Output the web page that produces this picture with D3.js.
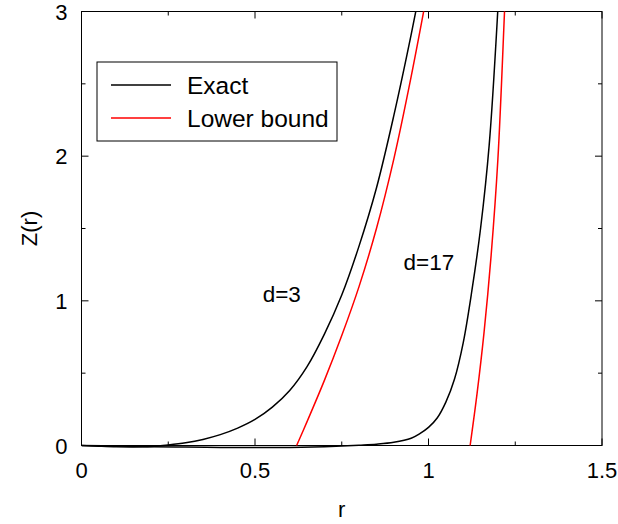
<!DOCTYPE html>
<html>
<head>
<meta charset="utf-8">
<script src="https://cdn.jsdelivr.net/npm/d3@7"></script>
<style>
  html, body { margin: 0; padding: 0; background: #fff; }
  svg text { font-family: "Liberation Sans", Arial, Helvetica, sans-serif; fill: #000; }
</style>
</head>
<body>
<svg id="chart" width="618" height="524"></svg>
<script>
// Z(r) for d=3 and d=17: exact curves and their lower bounds
const exactD3R = [0, 0.05, 0.1, 0.15, 0.2, 0.25, 0.3, 0.35, 0.4, 0.45, 0.5, 0.55, 0.6, 0.65, 0.7, 0.75, 0.8, 0.85, 0.9, 0.95, 1.0];
const exactD3Z = [0, -0.005, -0.009, -0.01, -0.007, 0.004, 0.019, 0.042, 0.075, 0.12, 0.18, 0.265, 0.38, 0.545, 0.77, 1.04, 1.38, 1.78, 2.28, 2.84, 3.45];

const lowerD3R = [0.62, 0.65, 0.7, 0.75, 0.8, 0.85, 0.9, 0.95, 1.0];
const lowerD3Z = [0, 0.165, 0.45, 0.76, 1.1, 1.5, 1.98, 2.55, 3.18];

const exactD17R = [0, 0.1, 0.2, 0.3, 0.4, 0.5, 0.6, 0.7, 0.75, 0.8, 0.85, 0.9, 0.95, 0.975, 1.0, 1.025, 1.05, 1.075, 1.1, 1.125, 1.15, 1.175, 1.2, 1.21];
const exactD17Z = [0, -0.004, -0.008, -0.011, -0.013, -0.014, -0.013, -0.008, -0.004, 0.002, 0.009, 0.022, 0.05, 0.082, 0.125, 0.19, 0.3, 0.46, 0.71, 1.07, 1.5, 2.08, 3.02, 3.5];

const lowerD17R = [1.12, 1.14, 1.16, 1.18, 1.2, 1.22, 1.23];
const lowerD17Z = [0, 0.36, 0.78, 1.3, 1.98, 3.05, 3.6];

const xTicks = [0, 0.5, 1, 1.5];
const xTickLabels = ["0", "0.5", "1", "1.5"];
const xMinorTicks = [0.25, 0.75, 1.25];
const yTicks = [0, 1, 2, 3];
const yTickLabels = ["0", "1", "2", "3"];
const yMinorTicks = [0.5, 1.5, 2.5];

const legendNames = ["Exact", "Lower bound"];
const legendColors = ["#000000", "#ff0000"];

const curveLabels = [
  { text: "d=3", r: 0.522, z: 0.99 },
  { text: "d=17", r: 0.928, z: 1.21 }
];

const svg = d3.select("#chart");
const plotLeft = 81.5, plotRight = 602, plotTop = 11.5, plotBottom = 445.5;

const x = d3.scaleLinear().domain([0, 1.5]).range([plotLeft, plotRight]);
const y = d3.scaleLinear().domain([0, 3]).range([plotBottom, plotTop]);

svg.append("defs").append("clipPath").attr("id", "plotClip")
  .append("rect").attr("x", plotLeft).attr("y", plotTop)
  .attr("width", plotRight - plotLeft).attr("height", plotBottom - plotTop + 4);

// frame
svg.append("rect")
  .attr("x", plotLeft).attr("y", plotTop)
  .attr("width", plotRight - plotLeft).attr("height", plotBottom - plotTop)
  .attr("fill", "none").attr("stroke", "#000").attr("stroke-width", 1);

// inward ticks on all four sides
const majorLen = 7, minorLen = 4;
const tickG = svg.append("g").attr("stroke", "#000").attr("stroke-width", 1);
function xTick(v, len) {
  tickG.append("line").attr("x1", x(v)).attr("x2", x(v)).attr("y1", plotBottom).attr("y2", plotBottom - len);
  tickG.append("line").attr("x1", x(v)).attr("x2", x(v)).attr("y1", plotTop).attr("y2", plotTop + len);
}
function yTick(v, len) {
  tickG.append("line").attr("x1", plotLeft).attr("x2", plotLeft + len).attr("y1", y(v)).attr("y2", y(v));
  tickG.append("line").attr("x1", plotRight).attr("x2", plotRight - len).attr("y1", y(v)).attr("y2", y(v));
}
xTicks.forEach(v => xTick(v, majorLen));
xMinorTicks.forEach(v => xTick(v, minorLen));
yTicks.forEach(v => yTick(v, majorLen));
yMinorTicks.forEach(v => yTick(v, minorLen));

// tick labels
svg.append("g").selectAll("text").data(xTicks).join("text")
  .attr("x", d => x(d)).attr("y", plotBottom + 32)
  .attr("text-anchor", "middle").attr("font-size", 22)
  .text((d, i) => xTickLabels[i]);

svg.append("g").selectAll("text").data(yTicks).join("text")
  .attr("x", plotLeft - 14).attr("y", d => y(d) + 8)
  .attr("text-anchor", "end").attr("font-size", 22)
  .text((d, i) => yTickLabels[i]);

// axis titles
svg.append("text").attr("x", (plotLeft + plotRight) / 2).attr("y", 517)
  .attr("text-anchor", "middle").attr("font-size", 22).text("r");
svg.append("text")
  .attr("transform", `translate(37, ${(plotTop + plotBottom) / 2}) rotate(-90)`)
  .attr("text-anchor", "middle").attr("font-size", 22).text("Z(r)");

// curves
const line = d3.line().x(d => x(d[0])).y(d => y(d[1])).curve(d3.curveCatmullRom.alpha(0.5));
const zip = (rs, zs) => rs.map((r, i) => [r, zs[i]]);
const curves = [
  { data: zip(exactD3R, exactD3Z), color: legendColors[0] },
  { data: zip(exactD17R, exactD17Z), color: legendColors[0] },
  { data: zip(lowerD3R, lowerD3Z), color: legendColors[1] },
  { data: zip(lowerD17R, lowerD17Z), color: legendColors[1] }
];
const plot = svg.append("g").attr("clip-path", "url(#plotClip)");
plot.selectAll("path").data(curves).join("path")
  .attr("d", d => line(d.data))
  .attr("fill", "none")
  .attr("stroke", d => d.color)
  .attr("stroke-width", 1.5);

// curve labels
svg.append("g").selectAll("text").data(curveLabels).join("text")
  .attr("x", d => x(d.r)).attr("y", d => y(d.z))
  .attr("font-size", 22.5)
  .text(d => d.text);

// legend
const lg = svg.append("g");
lg.append("rect").attr("x", 97).attr("y", 62).attr("width", 240).attr("height", 79)
  .attr("fill", "#fff").attr("stroke", "#000").attr("stroke-width", 1);
legendNames.forEach((name, i) => {
  const ly = 85 + i * 33;
  lg.append("line").attr("x1", 111).attr("x2", 171).attr("y1", ly).attr("y2", ly)
    .attr("stroke", legendColors[i]).attr("stroke-width", 1.5);
  lg.append("text").attr("x", 187).attr("y", ly + 8.5).attr("font-size", 24.5).text(name);
});
</script>
</body>
</html>
